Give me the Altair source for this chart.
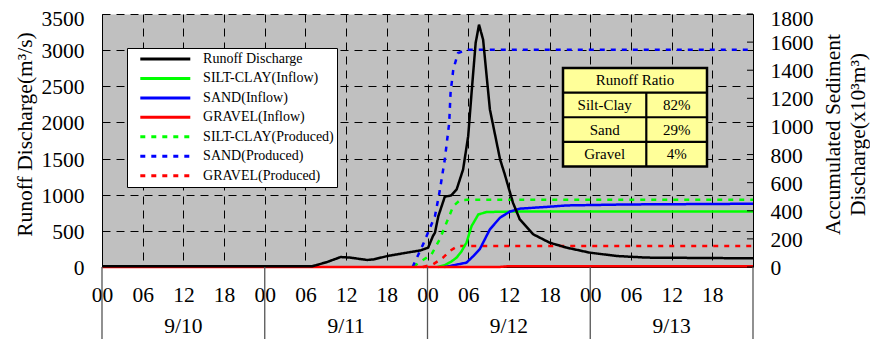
import altair as alt
import pandas as pd

# ---------------- data (hours since 9/10 00:00) ----------------
SERIES = ["Runoff Discharge", "SILT-CLAY(Inflow)", "SAND(Inflow)", "GRAVEL(Inflow)",
          "SILT-CLAY(Produced)", "SAND(Produced)", "GRAVEL(Produced)"]
COLORS = ["#000000", "#00FF00", "#0000FF", "#FF0000", "#00FF00", "#0000FF", "#FF0000"]
DASHES = [[1, 0], [1, 0], [1, 0], [1, 0], [5, 6], [5, 6], [5, 6]]

runoff_t = [0, 24, 31, 31.5, 33.2, 35.2, 36.6, 39.1, 40.1, 42.1, 45.0, 47.0, 48.1, 48.8,
            49.1, 49.6, 50.55, 51.5, 52.3, 53.25, 54.0, 54.5, 55.1, 55.6, 56.2, 57.2, 58.7,
            59.4, 60.6, 61.6, 63.6, 66.0, 68.5, 71.9, 75.9, 80.3, 96]
runoff_q = [10, 10, 10, 23, 69, 138, 130, 97, 106, 152, 199, 230, 268, 428,
            475, 704, 972, 990, 1073, 1350, 1810, 2410, 3100, 3352, 3145, 2180, 1490,
            1280, 890, 660, 452, 337, 268, 199, 152, 130, 120]

silt_prod_t = [46.0, 46.4, 48.6, 49.8, 50.8, 51.8, 52.8, 53.8, 96]
silt_prod_v = [0, 19, 90, 197, 315, 433, 476, 478, 478]
sand_prod_t = [45.8, 46.1, 47.35, 49.1, 49.8, 50.55, 51.2, 51.4, 51.8, 52.5, 54.0, 96]
sand_prod_v = [0, 31, 161, 362, 540, 765, 1025, 1239, 1404, 1523, 1546, 1546]
gravel_prod_t = [47.3, 48.8, 49.6, 50.3, 51.3, 52.5, 96]
gravel_prod_v = [0, 19, 43, 67, 114, 150, 150]

silt_in_t = [49.5, 50.5, 51.5, 52.3, 53.0, 53.75, 54.5, 55.5, 56.7, 58.7, 61.4, 96]
silt_in_v = [0, 12, 38, 67, 110, 173, 291, 374, 391, 393, 395, 395]
sand_in_t = [50.5, 51.3, 53.75, 54.7, 55.7, 57.2, 58.7, 60.1, 61.6, 66.0, 68.5, 77.4, 96]
sand_in_v = [0, 7, 31, 75, 126, 268, 351, 393, 415, 429, 438, 445, 450]
gravel_in_t = [0, 58.5, 60.0, 96]
gravel_in_v = [0, 0, 6, 6]

day_labels = ["9/10", "9/11", "9/12", "9/13"]
hour_ticks = list(range(0, 96, 6))
left_ticks = list(range(0, 3501, 500))
right_ticks = list(range(0, 1801, 200))

table_header = "Runoff Ratio"
table_names = ["Silt-Clay", "Sand", "Gravel"]
table_ratios = ["82%", "29%", "4%"]

# ---------------- layout / style ----------------
W, H = 651, 253
FONT = "Liberation Serif"
FS = 21.5
GRID_DASH = [8, 6]

runoff_df = pd.DataFrame({"t": runoff_t, "v": runoff_q, "series": SERIES[0]})
sed_parts = [
    (SERIES[4], silt_prod_t, silt_prod_v),
    (SERIES[5], sand_prod_t, sand_prod_v),
    (SERIES[6], gravel_prod_t, gravel_prod_v),
    (SERIES[1], silt_in_t, silt_in_v),
    (SERIES[2], sand_in_t, sand_in_v),
    (SERIES[3], gravel_in_t, gravel_in_v),
]
sed_df = pd.concat([pd.DataFrame({"t": t, "v": v, "series": s}) for s, t, v in sed_parts],
                   ignore_index=True)
sed_df["ord"] = range(len(sed_df))

legend = alt.Legend(title=None, orient="none", legendX=25, legendY=34, direction="vertical",
                    symbolType="stroke", symbolSize=2500, symbolStrokeWidth=3,
                    clipHeight=16, rowPadding=3.45, padding=3, symbolOffset=8.8,
                    labelOffset=11.3, labelFont=FONT, labelFontSize=14, labelColor="black",
                    fillColor="white", strokeColor="black", labelLimit=400)
color_enc = alt.Color("series:N", scale=alt.Scale(domain=SERIES, range=COLORS), legend=legend)
dash_enc = alt.StrokeDash("series:N", scale=alt.Scale(domain=SERIES, range=DASHES), legend=legend)

x_enc = alt.X("t:Q", scale=alt.Scale(domain=[0, 96], nice=False, zero=False),
              axis=alt.Axis(values=hour_ticks, title=None, grid=True, ticks=False,
                            labelExpr="(datum.value % 24) < 10 ? '0' + (datum.value % 24) : '' + (datum.value % 24)",
                            labelPadding=17, labelFont=FONT, labelFontSize=FS, labelColor="black",
                            labelFlush=False, labelOverlap=False, domainColor="black",
                            gridDash=GRID_DASH, gridColor="black", gridWidth=1))

left_top = max(left_ticks)
right_top = max(right_ticks)

y_left = alt.Y("v:Q", scale=alt.Scale(domain=[0, 3500], nice=False),
               axis=alt.Axis(orient="left", values=left_ticks, format="d",
                             title="Runoff Discharge(m³/s)", titleFont=FONT, titleFontSize=FS,
                             titleFontWeight="normal", titleColor="black", titleAngle=270,
                             titleX=-77, titleY=120, titleAlign="center", titleBaseline="middle",
                             labelFont=FONT, labelFontSize=FS, labelColor="black", labelPadding=18,
                             labelOffset={"condition": {"test": f"datum.value == {left_top}", "value": 5},
                                          "value": 1.5},
                             labelFlush=False,
                             ticks=False, grid=True, gridDash=GRID_DASH, gridColor="black",
                             gridWidth=1, domainColor="black"))

y_right = alt.Y("v:Q", scale=alt.Scale(domain=[0, 1800], nice=False),
                axis=alt.Axis(orient="right", values=right_ticks, format="d",
                              title=["Accumulated Sediment", "Discharge(x10³m³)"],
                              titleFont=FONT, titleFontSize=FS, titleFontWeight="normal",
                              titleColor="black", titleAngle=270, titleLineHeight=25,
                              titleX=80, titleY=120, titleAlign="center", titleBaseline="middle",
                              labelFont=FONT, labelFontSize=FS, labelColor="black",
                              labelPadding=17, labelAlign="left",
                              labelOffset={"condition": {"test": f"datum.value == {right_top}", "value": 5},
                                           "value": 1.5},
                              labelFlush=False,
                              ticks=False, grid=False, domainColor="black"))

sed_lines = alt.Chart(sed_df).mark_line(strokeWidth=2.5).encode(
    x=x_enc, y=y_right, color=color_enc, strokeDash=dash_enc, order="ord:Q", detail="series:N")
right_tick_marks = alt.Chart(pd.DataFrame({"v": right_ticks})).mark_rule(
    color="black", strokeWidth=1).encode(x=alt.value(W - 6), x2=alt.value(W), y=y_right)
sed_layer = alt.layer(sed_lines, right_tick_marks)

runoff_layer = alt.Chart(runoff_df).mark_line(strokeWidth=2.5).encode(
    x=x_enc, y=y_left, color=color_enc, strokeDash=dash_enc)

# ---- ratio table (annotation) ----
tx0, tx1, txm = 461, 605, 544.3
ty0, ty1, thd = 54, 152.4, 78.7
row_h = (ty1 - thd) / len(table_names)
one = pd.DataFrame({"a": [0]})
table_layers = [
    alt.Chart(one).mark_rect(fill="#FFFF99", stroke="black", strokeWidth=2.5).encode(
        x=alt.value(tx0), x2=alt.value(tx1), y=alt.value(ty0), y2=alt.value(ty1)),
    alt.Chart(one).mark_rule(color="black", strokeWidth=2.2).encode(
        x=alt.value(txm), y=alt.value(thd), y2=alt.value(ty1)),
    alt.Chart(pd.DataFrame({"txt": [table_header]})).mark_text(
        font=FONT, fontSize=15, color="black", align="center", baseline="middle").encode(
        text="txt:N", x=alt.value((tx0 + tx1) / 2), y=alt.value((ty0 + thd) / 2)),
]
for i, (nm, rt) in enumerate(zip(table_names, table_ratios)):
    top = thd + i * row_h
    table_layers.append(alt.Chart(one).mark_rule(color="black", strokeWidth=2.2).encode(
        x=alt.value(tx0), x2=alt.value(tx1), y=alt.value(top)))
    table_layers.append(alt.Chart(pd.DataFrame({"txt": [nm]})).mark_text(
        font=FONT, fontSize=15, color="black", align="center", baseline="middle").encode(
        text="txt:N", x=alt.value((tx0 + txm) / 2), y=alt.value(top + row_h / 2)))
    table_layers.append(alt.Chart(pd.DataFrame({"txt": [rt]})).mark_text(
        font=FONT, fontSize=15, color="black", align="center", baseline="middle").encode(
        text="txt:N", x=alt.value((txm + tx1) / 2), y=alt.value(top + row_h / 2)))

# ---- day labels and separators below the axis ----
days_df = pd.DataFrame({"day": day_labels, "i": list(range(len(day_labels)))})
day_text = alt.Chart(days_df).transform_calculate(t="datum.i * 24 + 12").mark_text(
    font=FONT, fontSize=FS, color="black", align="center", baseline="middle").encode(
    x=x_enc, y=alt.value(H + 60), text="day:N")
sep_df = pd.DataFrame({"i": list(range(len(day_labels) + 1))})
day_sep = alt.Chart(sep_df).transform_calculate(t="datum.i * 24").mark_rule(
    color="#555555", strokeWidth=1.3).encode(x=x_enc, y=alt.value(H), y2=alt.value(H + 80))

chart = alt.layer(sed_layer, runoff_layer, *table_layers, day_text, day_sep).resolve_scale(
    y="independent"
).properties(
    width=W, height=H,
    autosize=alt.AutoSizeParams(type="none"),
    padding={"left": 94, "top": 6, "right": 117, "bottom": 72},
).configure_view(fill="#C0C0C0", stroke="transparent")

chart.save("out.html", embed_options={"renderer": "svg", "actions": False})
